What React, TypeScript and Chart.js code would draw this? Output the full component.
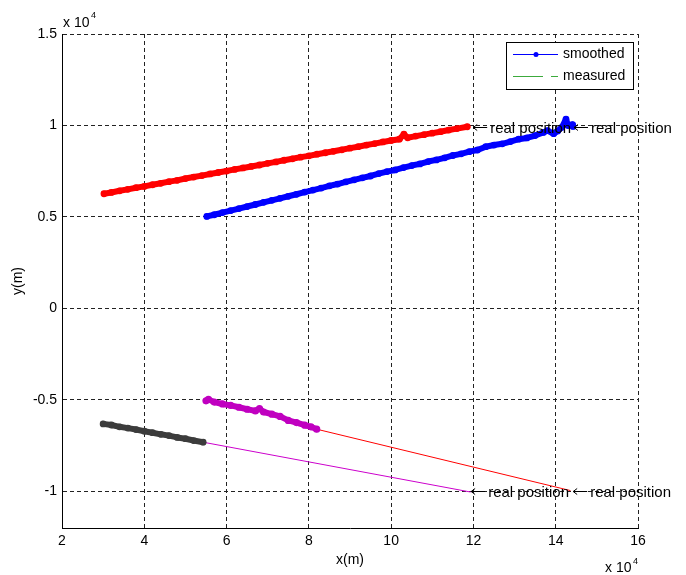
import React, { useEffect, useRef } from "react";
import { Chart, registerables } from "chart.js";

Chart.register(...registerables);

// ---- data (units of 1e4 m) ----
const redX = [3.02, 3.2, 3.4, 3.6, 3.8, 4.0, 4.2, 4.4, 4.6, 4.8, 5.0, 5.2, 5.4, 5.6, 5.8, 6.0, 6.2, 6.4, 6.6, 6.8, 7.0, 7.2, 7.4, 7.6, 7.8, 8.0, 8.2, 8.4, 8.6, 8.8, 9.0, 9.2, 9.4, 9.6, 9.8, 10.0, 10.2, 10.31, 10.4, 10.6, 10.8, 11.0, 11.2, 11.4, 11.6, 11.85];
const redY = [0.627, 0.634, 0.643, 0.651, 0.66, 0.667, 0.676, 0.684, 0.693, 0.7, 0.71, 0.718, 0.726, 0.735, 0.743, 0.751, 0.76, 0.768, 0.776, 0.784, 0.793, 0.801, 0.81, 0.818, 0.827, 0.834, 0.843, 0.851, 0.859, 0.867, 0.876, 0.884, 0.893, 0.901, 0.91, 0.918, 0.925, 0.952, 0.933, 0.942, 0.95, 0.958, 0.966, 0.975, 0.983, 0.993];

const blueX = [5.52, 5.7, 5.9, 6.1, 6.3, 6.5, 6.7, 6.9, 7.1, 7.3, 7.5, 7.7, 7.9, 8.1, 8.3, 8.5, 8.7, 8.9, 9.1, 9.3, 9.5, 9.7, 9.9, 10.1, 10.3, 10.5, 10.7, 10.9, 11.1, 11.3, 11.5, 11.7, 11.9, 12.1, 12.3, 12.5, 12.7, 12.9, 13.1, 13.3, 13.5, 13.7, 13.8, 13.95, 14.05, 14.15, 14.25, 14.3, 14.4, 14.42];
const blueY = [0.503, 0.512, 0.524, 0.535, 0.546, 0.557, 0.568, 0.58, 0.591, 0.602, 0.613, 0.624, 0.636, 0.647, 0.658, 0.67, 0.68, 0.692, 0.703, 0.714, 0.724, 0.737, 0.748, 0.757, 0.77, 0.781, 0.79, 0.803, 0.812, 0.823, 0.836, 0.845, 0.857, 0.866, 0.884, 0.893, 0.9, 0.912, 0.925, 0.932, 0.945, 0.962, 0.972, 0.955, 0.97, 0.99, 1.035, 1.0, 1.005, 0.995];

const blackX = [3.0, 3.2, 3.4, 3.6, 3.8, 4.0, 4.2, 4.4, 4.6, 4.8, 5.0, 5.2, 5.43];
const blackY = [-0.631, -0.637, -0.647, -0.654, -0.662, -0.671, -0.679, -0.688, -0.695, -0.705, -0.712, -0.722, -0.731];

const magentaX = [5.5, 5.56, 5.7, 5.9, 6.1, 6.3, 6.5, 6.7, 6.8, 6.9, 7.1, 7.3, 7.5, 7.7, 7.9, 8.05, 8.19];
const magentaY = [-0.505, -0.497, -0.512, -0.522, -0.53, -0.54, -0.551, -0.56, -0.548, -0.566, -0.578, -0.59, -0.612, -0.624, -0.638, -0.647, -0.66];

const redLineX = [8.19, 14.35];
const redLineY = [-0.66, -0.995];
const magentaLineX = [5.43, 11.92];
const magentaLineY = [-0.731, -1.003];

const measuredTopX = [5.52, 14.4];
const measuredTopY = [0.503, 1.0];
const measuredRedX = [3.02, 11.85];
const measuredRedY = [0.627, 0.993];

const annotX = [11.97, 14.42, 11.92, 14.4];
const annotY = [0.99, 0.99, -1.0, -1.0];
const annotText = "real position";

const xTicks = [2, 4, 6, 8, 10, 12, 14, 16];
const yTicks = [-1, -0.5, 0, 0.5, 1, 1.5];

const legendLabels = ["smoothed", "measured"];

const FONT = '"Liberation Sans", Arial, Helvetica, sans-serif';

function pts(xs: number[], ys: number[]) {
  return xs.map((x, i) => ({ x, y: ys[i] }));
}

const overlay = {
  id: "overlay",
  afterDraw(chart: any) {
    const { ctx, chartArea, scales } = chart;
    const xs = scales.x;
    const ys = scales.y;
    ctx.save();
    ctx.fillStyle = "#000";
    ctx.strokeStyle = "#000";
    ctx.lineWidth = 1;

    // annotations
    ctx.font = `15px ${FONT}`;
    ctx.textAlign = "left";
    ctx.textBaseline = "middle";
    annotX.forEach((ax, i) => {
      const px = xs.getPixelForValue(ax);
      const py = Math.round(ys.getPixelForValue(annotY[i])) + 0.5;
      ctx.strokeStyle = "#000";
      ctx.beginPath();
      ctx.moveTo(px + 1, py);
      ctx.lineTo(px + 15, py);
      ctx.moveTo(px + 5, py - 3);
      ctx.lineTo(px + 1, py);
      ctx.lineTo(px + 5, py + 3);
      ctx.stroke();
      ctx.fillStyle = "#000";
      ctx.fillText(annotText, px + 18, py + 1);
    });

    // legend
    const lx = 506, ly = 42, lw = 127, lh = 47;
    ctx.fillStyle = "#fff";
    ctx.fillRect(lx, ly, lw, lh);
    ctx.strokeStyle = "#000";
    ctx.strokeRect(lx + 0.5, ly + 0.5, lw, lh);
    ctx.strokeStyle = "#0000ff";
    ctx.beginPath();
    ctx.moveTo(513, 54.5);
    ctx.lineTo(558, 54.5);
    ctx.stroke();
    ctx.fillStyle = "#0000ff";
    ctx.beginPath();
    ctx.arc(536, 54.5, 2.5, 0, Math.PI * 2);
    ctx.fill();
    ctx.strokeStyle = "#3caa3c";
    ctx.beginPath();
    ctx.moveTo(513, 76.5);
    ctx.lineTo(543, 76.5);
    ctx.moveTo(551, 76.5);
    ctx.lineTo(558, 76.5);
    ctx.stroke();
    ctx.fillStyle = "#000";
    ctx.font = `14px ${FONT}`;
    ctx.textAlign = "left";
    ctx.textBaseline = "middle";
    ctx.fillText(legendLabels[0], 563, 54.5);
    ctx.fillText(legendLabels[1], 563, 76.5);

    // axis titles
    ctx.textAlign = "center";
    ctx.fillText("x(m)", (chartArea.left + chartArea.right) / 2, 560);
    ctx.save();
    ctx.translate(18.5, (chartArea.top + chartArea.bottom) / 2);
    ctx.rotate(-Math.PI / 2);
    ctx.fillText("y(m)", 0, 0);
    ctx.restore();

    // exponent labels
    ctx.textAlign = "left";
    ctx.textBaseline = "alphabetic";
    ctx.font = `14px ${FONT}`;
    ctx.fillText("x 10", 63, 26.5);
    ctx.fillText("x 10", 605, 572);
    ctx.font = `9px ${FONT}`;
    ctx.fillText("4", 91, 18);
    ctx.fillText("4", 633, 563.5);
    ctx.restore();
  },
};

export default function App() {
  const ref = useRef<HTMLCanvasElement | null>(null);
  useEffect(() => {
    if (!ref.current) return;
    const common = { showLine: true, tension: 0, pointBorderWidth: 0, borderCapStyle: "round", borderJoinStyle: "round" };
    const chart = new Chart(ref.current, {
      type: "scatter",
      data: {
        datasets: [
          { ...common, data: pts(redX, redY), borderColor: "#ff0000", backgroundColor: "#ff0000", borderWidth: 6, pointRadius: 3.4, order: 1 },
          { ...common, data: pts(blueX, blueY), borderColor: "#0000ff", backgroundColor: "#0000ff", borderWidth: 6, pointRadius: 3.4, order: 1 },
          { ...common, data: pts(blackX, blackY), borderColor: "#3c3c3c", backgroundColor: "#3c3c3c", borderWidth: 6, pointRadius: 3.4, order: 1 },
          { ...common, data: pts(magentaX, magentaY), borderColor: "#c000c0", backgroundColor: "#c000c0", borderWidth: 6, pointRadius: 3.6, order: 1 },
          { ...common, data: pts(redLineX, redLineY), borderColor: "#ff0000", backgroundColor: "#ff0000", borderWidth: 1, pointRadius: 0, order: 5 },
          { ...common, data: pts(magentaLineX, magentaLineY), borderColor: "#cc00cc", backgroundColor: "#cc00cc", borderWidth: 1, pointRadius: 0, order: 5 },
          { ...common, data: pts(measuredTopX, measuredTopY), borderColor: "#3caa3c", backgroundColor: "#3caa3c", borderWidth: 1, pointRadius: 0, order: 10 },
          { ...common, data: pts(measuredRedX, measuredRedY), borderColor: "#3caa3c", backgroundColor: "#3caa3c", borderWidth: 1, pointRadius: 0, order: 10 },
        ],
      },
      options: {
        animation: false,
        responsive: false,
        devicePixelRatio: 1,
        layout: { padding: { left: 0, right: 48, top: 34, bottom: 0 } },
        plugins: { legend: { display: false }, tooltip: { enabled: false } },
        scales: {
          x: {
            type: "linear",
            min: 2,
            max: 16,
            afterBuildTicks: (s: any) => { s.ticks = xTicks.map((v) => ({ value: v })); },
            afterFit: (s: any) => { s.height = 47; },
            ticks: { callback: (v: any) => String(v), color: "#000", font: { family: FONT, size: 14 }, padding: 5, maxRotation: 0, autoSkip: false },
            grid: { color: "#222", lineWidth: 1, drawTicks: false },
            border: { display: true, color: "#000", width: 1, dash: [4, 3] },
          },
          y: {
            type: "linear",
            min: -1.2,
            max: 1.5,
            afterBuildTicks: (s: any) => { s.ticks = yTicks.map((v) => ({ value: v })); },
            afterFit: (s: any) => { s.width = 62; },
            ticks: { callback: (v: any) => String(v), color: "#000", font: { family: FONT, size: 14 }, padding: 5, autoSkip: false },
            grid: { color: "#222", lineWidth: 1, drawTicks: false },
            border: { display: true, color: "#000", width: 1, dash: [4, 3] },
          },
        },
      },
      plugins: [overlay],
    } as any);
    return () => chart.destroy();
  }, []);
  return (
    <div style={{ position: "absolute", left: 0, top: 0, width: 686, height: 575, background: "#fff" }}>
      <canvas ref={ref} width={686} height={575} style={{ width: 686, height: 575 }} />
    </div>
  );
}
